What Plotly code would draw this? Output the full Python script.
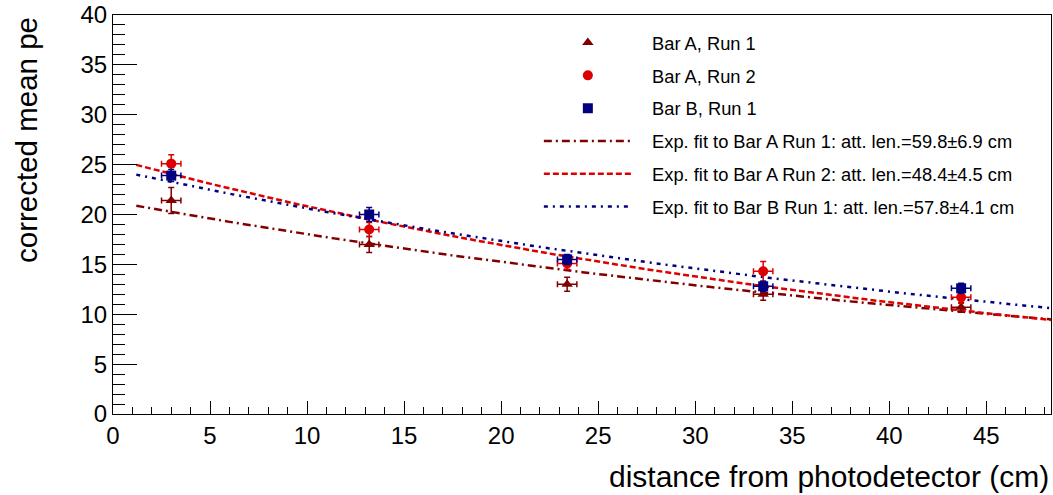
import numpy as np
import plotly.graph_objects as go

# ---- data ----
distance = [3.0, 13.2, 23.4, 33.5, 43.7]
dist_err = [0.5, 0.5, 0.5, 0.5, 0.5]

barA_run1 = [21.4, 17.0, 13.0, 12.0, 10.7]
barA_run1_err = [1.3, 0.8, 0.7, 0.6, 0.5]

barA_run2 = [25.1, 18.5, 15.1, 14.3, 11.7]
barA_run2_err = [0.9, 0.7, 0.6, 1.0, 0.6]

barB_run1 = [23.9, 20.0, 15.5, 12.8, 12.6]
barB_run1_err = [0.6, 0.7, 0.5, 0.5, 0.5]

# exponential fit parameters: amplitude at x=0, attenuation length (cm)
fit_amp = {"A1": 21.3, "A2": 25.6, "B1": 24.5}
fit_att = {"A1": 59.8, "A2": 48.4, "B1": 57.8}
fit_x_range = [1.2, 48.33]

x_ticks = [0, 5, 10, 15, 20, 25, 30, 35, 40, 45]
y_ticks = [0, 5, 10, 15, 20, 25, 30, 35, 40]

C_DARK = "#800000"
C_RED = "#dd0000"
C_NAVY = "#000080"
FONT = "Liberation Sans, Arial, sans-serif"
PAD = "\u00a0\u00a0\u00a0"

fig = go.Figure()

xf = np.linspace(fit_x_range[0], fit_x_range[1], 200)

fits = [
    ("A1", C_DARK, "8px,4px,2px,4px", "Exp. fit to Bar A Run 1: att. len.=59.8\u00b16.9 cm"),
    ("A2", C_RED, "6px,3px", "Exp. fit to Bar A Run 2: att. len.=48.4\u00b14.5 cm"),
    ("B1", C_NAVY, "4px,5px,2px,5px", "Exp. fit to Bar B Run 1: att. len.=57.8\u00b14.1 cm"),
]
for i, (key, col, dash, name) in enumerate(fits):
    fig.add_trace(go.Scatter(
        x=xf, y=fit_amp[key] * np.exp(-xf / fit_att[key]),
        mode="lines", line=dict(color=col, width=2.5, dash=dash),
        name=PAD + name, legendrank=10 + i, legendgroup="f" + key,
    ))

pts = [
    (barA_run1, barA_run1_err, C_DARK, "triangle-up", "Bar A, Run 1"),
    (barA_run2, barA_run2_err, C_RED, "circle", "Bar A, Run 2"),
    (barB_run1, barB_run1_err, C_NAVY, "square", "Bar B, Run 1"),
]
for i, (yv, ye, col, sym, name) in enumerate(pts):
    fig.add_trace(go.Scatter(
        x=distance, y=yv, mode="markers",
        marker=dict(symbol=sym, size=10, color=col),
        error_x=dict(type="data", array=dist_err, color=col, thickness=1.5, width=3),
        error_y=dict(type="data", array=ye, color=col, thickness=1.5, width=3),
        name=PAD + name, legendrank=1 + i, legendgroup="p" + str(i),
    ))

fig.update_layout(
    width=1053, height=495,
    margin=dict(l=113, r=2, t=15, b=81),
    paper_bgcolor="white", plot_bgcolor="white",
    font=dict(family=FONT, color="black"),
    showlegend=True,
    legend=dict(
        x=0.454, y=0.977, xanchor="left", yanchor="top",
        bgcolor="rgba(0,0,0,0)", borderwidth=0,
        font=dict(size=18.3, family=FONT), tracegroupgap=6,
        itemwidth=88,
    ),
    xaxis=dict(
        range=[0, fit_x_range[1]], tickvals=x_ticks, ticktext=[str(v) for v in x_ticks],
        ticks="inside", ticklen=13, tickwidth=1, tickcolor="black",
        minor=dict(dtick=1, ticks="inside", ticklen=7, tickcolor="black", tickwidth=1),
        showline=True, linecolor="black", linewidth=1, mirror=True,
        showgrid=False, zeroline=False,
        tickfont=dict(size=24, family=FONT),
    ),
    yaxis=dict(
        range=[0, 40], tickvals=y_ticks, ticktext=[str(v) for v in y_ticks],
        ticks="inside", ticklen=24, tickwidth=1, tickcolor="black",
        minor=dict(dtick=1, ticks="inside", ticklen=12, tickcolor="black", tickwidth=1),
        showline=True, linecolor="black", linewidth=1, mirror=True,
        showgrid=False, zeroline=False,
        tickfont=dict(size=24, family=FONT),
    ),
    annotations=[
        dict(text="distance from photodetector (cm)", xref="paper", yref="paper",
             x=1.0, y=-0.11, xanchor="right", yanchor="top", showarrow=False,
             font=dict(size=30, family=FONT)),
        dict(text="corrected mean pe", xref="paper", yref="paper",
             x=-0.0928, y=1.0, xanchor="center", yanchor="top", textangle=-90,
             showarrow=False, font=dict(size=29.5, family=FONT)),
    ],
)

fig.write_html(
    "out.html",
    config={"displayModeBar": False},
    post_script="document.body.style.margin='0';document.body.style.overflow='hidden';",
)
